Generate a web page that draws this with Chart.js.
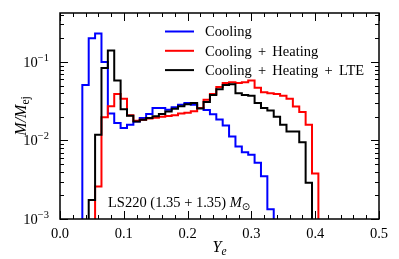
<!DOCTYPE html>
<html>
<head>
<meta charset="utf-8">
<script src="https://cdn.jsdelivr.net/npm/chart.js@4.4.0/dist/chart.umd.min.js"></script>
<style>
  html, body { margin: 0; padding: 0; background: #fff; }
  #wrap { width: 399px; height: 259px; }
</style>
</head>
<body>
<div id="wrap"><canvas id="yeChart" width="399" height="259"></canvas></div>
<script>
// bin centres of the Ye histogram (bin width 0.01)
const yeBins = [0.04, 0.05, 0.06, 0.07, 0.08, 0.09, 0.10, 0.11, 0.12, 0.13,
                0.14, 0.15, 0.16, 0.17, 0.18, 0.19, 0.20, 0.21, 0.22, 0.23,
                0.24, 0.25, 0.26, 0.27, 0.28, 0.29, 0.30, 0.31, 0.32, 0.33,
                0.34, 0.35, 0.36, 0.37, 0.38, 0.39, 0.40];
const binWidth = 0.01;

// M/Mej per bin, 0 = empty bin
const cooling = [0.051, 0.20, 0.23, 0.10, 0.022, 0.0167, 0.0144, 0.0158, 0.0175, 0.0193,
                 0.0217, 0.0259, 0.0259, 0.0247, 0.0264, 0.0286, 0.030, 0.0286, 0.026, 0.0245,
                 0.0215, 0.0185, 0.0155, 0.0112, 0.0084, 0.0071, 0.0066, 0.0052, 0.0035, 0.00133,
                 0, 0, 0, 0, 0, 0, 0];
const coolingHeating = [0, 0, 0.0026, 0.0197, 0.0272, 0.039, 0.034, 0.021, 0.0178, 0.0184,
                        0.019, 0.0195, 0.020, 0.0205, 0.021, 0.022, 0.0225, 0.0235, 0.026, 0.033,
                        0.039, 0.048, 0.054, 0.055, 0.054, 0.055, 0.058, 0.047, 0.041, 0.040,
                        0.039, 0.037, 0.034, 0.027, 0.023, 0.0158, 0.0038];
const coolingHeatingLte = [0, 0.00175, 0.0118, 0.084, 0.140, 0.058, 0.025, 0.0207, 0.0175, 0.0184,
                           0.0193, 0.0203, 0.0217, 0.0234, 0.0254, 0.0272, 0.029, 0.030, 0.0255, 0.031,
                           0.038, 0.045, 0.051, 0.052, 0.040, 0.038, 0.037, 0.030, 0.026, 0.024,
                           0.020, 0.0158, 0.013, 0.013, 0.0095, 0.0029, 0];

const seriesNames = ['Cooling', 'Cooling + Heating', 'Cooling + Heating + LTE'];
const xTicks = [0.0, 0.1, 0.2, 0.3, 0.4, 0.5];
const yTicks = [1e-3, 1e-2, 1e-1];
const yExponents = ['\u22123', '\u22122', '\u22121'];
const annotation = 'LS220 (1.35 + 1.35) ';

const FONT = 'Liberation Serif';
const FLOOR = 1e-6;

// histogram outline as step points (edges), empty bins pushed below the axis
function stepPoints(values) {
    let pts = [];
    pts.push({x: yeBins[0] - binWidth / 2, y: FLOOR});
    for (let i = 0; i < yeBins.length; i++) {
        pts.push({x: yeBins[i] - binWidth / 2, y: values[i] > 0 ? values[i] : FLOOR});
    }
    let last = yeBins.length - 1;
    pts.push({x: yeBins[last] + binWidth / 2, y: values[last] > 0 ? values[last] : FLOOR});
    pts.push({x: yeBins[last] + binWidth / 2, y: FLOOR});
    return pts;
}

function drawParts(ctx, parts, x, y) {
    // parts: [{text, font, dy}], drawn left to right from x
    let cx = x;
    for (const p of parts) {
        ctx.font = p.font;
        ctx.fillText(p.text, cx, y + (p.dy || 0));
        cx += ctx.measureText(p.text).width;
    }
    return cx;
}

function partsWidth(ctx, parts) {
    let w = 0;
    for (const p of parts) {
        ctx.font = p.font;
        w += ctx.measureText(p.text).width;
    }
    return w;
}

const decorPlugin = {
    id: 'decor',
    afterDraw(chart) {
        const ctx = chart.ctx;
        const area = chart.chartArea;
        const xs = chart.scales.x;
        const ys = chart.scales.y;
        ctx.save();
        ctx.strokeStyle = '#000';
        ctx.fillStyle = '#000';

        // inward ticks on all four sides
        ctx.lineWidth = 1;
        ctx.beginPath();
        for (const t of xs.ticks) {
            const px = Math.round(xs.getPixelForValue(t.value)) + 0.5;
            const len = t.major ? 8 : 4;
            ctx.moveTo(px, area.bottom); ctx.lineTo(px, area.bottom - len);
            ctx.moveTo(px, area.top); ctx.lineTo(px, area.top + len);
        }
        for (const t of ys.ticks) {
            const py = Math.round(ys.getPixelForValue(t.value)) + 0.5;
            const len = t.major ? 8 : 4;
            ctx.moveTo(area.left, py); ctx.lineTo(area.left + len, py);
            ctx.moveTo(area.right, py); ctx.lineTo(area.right - len, py);
        }
        ctx.stroke();

        // frame
        ctx.lineWidth = 1.5;
        ctx.strokeRect(area.left, area.top, area.right - area.left, area.bottom - area.top);

        // y tick labels 10^n
        ctx.textBaseline = 'alphabetic';
        ctx.textAlign = 'left';
        for (let i = 0; i < yTicks.length; i++) {
            const py = ys.getPixelForValue(yTicks[i]);
            const parts = [
                {text: '10', font: '14.5px "' + FONT + '"', dy: 0},
                {text: yExponents[i], font: '10.5px "' + FONT + '"', dy: -6}
            ];
            const w = partsWidth(ctx, parts);
            drawParts(ctx, parts, area.left - 11 - w, py + 5);
        }

        // x axis title Y_e
        const xt = [
            {text: 'Y', font: 'italic 16px "' + FONT + '"', dy: 0},
            {text: 'e', font: 'italic 11.5px "' + FONT + '"', dy: 3}
        ];
        drawParts(ctx, xt, (area.left + area.right) / 2 - partsWidth(ctx, xt) / 2, 252);

        // y axis title M/M_ej
        const yt = [
            {text: 'M/M', font: 'italic 16px "' + FONT + '"', dy: 0},
            {text: 'ej', font: '11.5px "' + FONT + '"', dy: 3}
        ];
        ctx.save();
        ctx.translate(26, (area.top + area.bottom) / 2);
        ctx.rotate(-Math.PI / 2);
        drawParts(ctx, yt, -partsWidth(ctx, yt) / 2, 0);
        ctx.restore();

        // legend
        const ds = chart.data.datasets;
        ctx.wordSpacing = '2.6px';
        for (let i = 0; i < ds.length; i++) {
            const ly = 31.5 + 19.3 * i;
            ctx.strokeStyle = ds[i].borderColor;
            ctx.lineWidth = 2;
            ctx.beginPath();
            ctx.moveTo(165, ly); ctx.lineTo(194, ly);
            ctx.stroke();
            ctx.font = '14.5px "' + FONT + '"';
            ctx.textBaseline = 'middle';
            ctx.fillText(ds[i].label, 205, ly + 1);
        }
        ctx.wordSpacing = '0px';

        // annotation
        ctx.textBaseline = 'alphabetic';
        drawParts(ctx, [
            {text: annotation, font: '14.5px "' + FONT + '"', dy: 0},
            {text: 'M', font: 'italic 14.5px "' + FONT + '"', dy: 0},
            {text: '\u2299', font: '10px "DejaVu Sans"', dy: 3}
        ], 108, 207);

        ctx.restore();
    }
};

const ctx = document.getElementById('yeChart');

new Chart(ctx, {
    type: 'line',
    data: {
        datasets: [
            {label: seriesNames[0], data: stepPoints(cooling), borderColor: '#0000ff', order: 3},
            {label: seriesNames[1], data: stepPoints(coolingHeating), borderColor: '#ff0000', order: 2},
            {label: seriesNames[2], data: stepPoints(coolingHeatingLte), borderColor: '#000000', order: 1}
        ]
    },
    options: {
        responsive: false,
        animation: false,
        devicePixelRatio: 1,
        layout: { padding: { top: 13, right: 20, left: 0, bottom: 0 } },
        elements: {
            line: { borderWidth: 2, stepped: true, tension: 0, fill: false },
            point: { radius: 0 }
        },
        plugins: {
            legend: { display: false },
            tooltip: { enabled: false }
        },
        scales: {
            x: {
                type: 'linear',
                min: 0,
                max: 0.5,
                afterBuildTicks: (s) => {
                    let ticks = [];
                    for (let i = 0; i < xTicks.length; i++) {
                        ticks.push({value: xTicks[i], major: true});
                        if (i < xTicks.length - 1) {
                            for (let k = 1; k < 5; k++) {
                                ticks.push({value: xTicks[i] + k * (xTicks[i + 1] - xTicks[i]) / 5, major: false});
                            }
                        }
                    }
                    s.ticks = ticks;
                },
                afterFit: (s) => { s.height = 40; },
                grid: { display: false, drawTicks: false },
                border: { display: false },
                ticks: {
                    autoSkip: false,
                    maxRotation: 0,
                    padding: 6,
                    color: '#000',
                    font: { family: FONT, size: 14.5 },
                    callback: (v) => xTicks.some(t => Math.abs(t - v) < 1e-9) ? v.toFixed(1) : ''
                }
            },
            y: {
                type: 'logarithmic',
                min: 1e-3,
                max: 0.42,
                afterBuildTicks: (s) => {
                    let ticks = [];
                    for (const d of yTicks) {
                        for (let m = 1; m <= 9; m++) {
                            if (m * d <= s.max) ticks.push({value: m * d, major: m === 1});
                        }
                    }
                    s.ticks = ticks;
                },
                afterFit: (s) => { s.width = 60; },
                grid: { display: false },
                border: { display: false },
                ticks: { display: false }
            }
        }
    },
    plugins: [decorPlugin]
});
</script>
</body>
</html>
